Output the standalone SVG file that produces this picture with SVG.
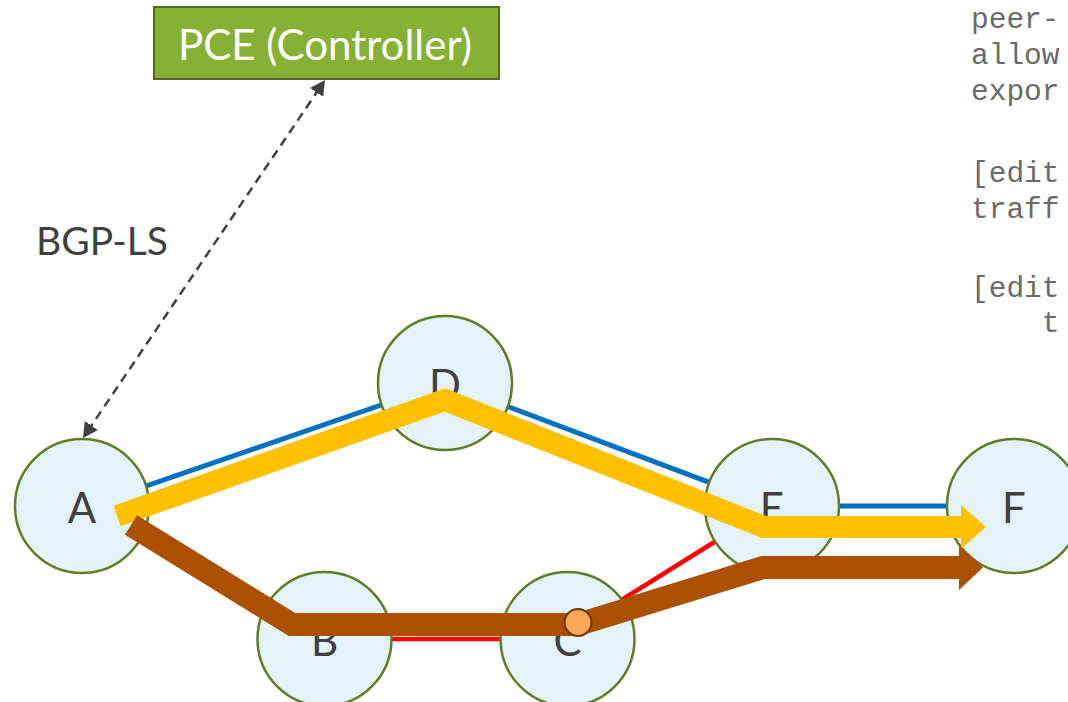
<svg xmlns="http://www.w3.org/2000/svg" width="1068" height="702" viewBox="0 0 1068 702">
  <style>
    .link-blue { stroke: #0070C0; stroke-width: 5; fill: none; }
    .link-red { stroke: #FF0000; stroke-width: 4.5; fill: none; }
    .node circle { fill: #E4F3FA; stroke: #5E7D23; stroke-width: 2.5; }
    .node text { font-family: Lato, "Open Sans", "Liberation Sans", sans-serif; font-size: 42px; fill: #404040; text-anchor: middle; }
    .path-yellow { stroke: #FFC000; stroke-width: 22; fill: none; stroke-linejoin: miter; stroke-miterlimit: 10; }
    .path-brown { stroke: #AA5000; stroke-width: 23; fill: none; stroke-linejoin: miter; stroke-miterlimit: 10; }
    .code { font-family: "Liberation Mono", "Courier New", monospace; font-size: 29.5px; fill: #6A6A6A; white-space: pre; }
    .label { font-family: Lato, "Open Sans", "Liberation Sans", sans-serif; font-size: 39px; fill: #404040; }
  </style>
  <defs>
    <marker id="dash-head" viewBox="0 0 15 16" refX="5" refY="8" markerWidth="15" markerHeight="16" markerUnits="userSpaceOnUse" orient="auto-start-reverse">
      <path d="M0,0 L15,8 L0,16 z" fill="#404040"/>
    </marker>
  </defs>

  <rect width="1068" height="702" fill="#FFFFFF"/>

  <!-- physical links -->
  <g id="links">
    <line class="link-blue" x1="82" y1="508" x2="445" y2="383"/>
    <line class="link-blue" x1="445" y1="383" x2="772" y2="506"/>
    <line class="link-blue" x1="772" y1="506" x2="1014" y2="506"/>
    <line class="link-red" x1="324" y1="639" x2="567" y2="639"/>
    <line class="link-red" x1="567" y1="634" x2="772" y2="506"/>
  </g>

  <!-- routers -->
  <g id="node-A" class="node"><circle cx="82" cy="506" r="67"/><text x="82" y="523">A</text></g>
  <g id="node-B" class="node"><circle cx="324.5" cy="639" r="67"/><text x="324.5" y="656">B</text></g>
  <g id="node-C" class="node"><circle cx="567.5" cy="639" r="67"/><text x="567.5" y="656">C</text></g>
  <g id="node-D" class="node"><circle cx="445" cy="383" r="67"/><text x="445" y="400">D</text></g>
  <g id="node-E" class="node"><circle cx="772" cy="506" r="67"/><text x="772" y="523">E</text></g>
  <g id="node-F" class="node"><circle cx="1014" cy="506" r="67"/><text x="1014" y="523">F</text></g>

  <!-- traffic-engineered paths -->
  <g id="paths">
    <g id="path-yellow">
      <polyline class="path-yellow" points="117,516 445,400 764,527 962,527"/>
      <polygon points="961,505 986,527 961,549" fill="#FFC000"/>
    </g>
    <g id="path-brown">
      <polyline class="path-brown" points="131,525 292,624.5 578,624.5 763,567.5 960,567.5"/>
      <polygon points="959,545 983,567.5 959,590" fill="#AA5000"/>
    </g>
    <circle id="path-point" cx="578" cy="622.5" r="13.5" fill="#FFA657" stroke="#6A3500" stroke-width="2"/>
  </g>

  <!-- controller session -->
  <g id="bgp-ls">
    <line x1="319.4" y1="88.3" x2="88.6" y2="429.7" stroke="#404040" stroke-width="2.5" stroke-dasharray="9 6" marker-start="url(#dash-head)" marker-end="url(#dash-head)"/>
    <text class="label" x="36" y="255">BGP-LS</text>
  </g>

  <g id="node-PCE">
    <rect x="154" y="7" width="345" height="72" fill="#86B135" stroke="#4E6B1F" stroke-width="2"/>
    <text x="325" y="60" font-family="Lato, 'Open Sans', 'Liberation Sans', sans-serif" font-size="42" fill="#FFFFFF" text-anchor="middle">PCE (Controller)</text>
  </g>

  <!-- configuration excerpt -->
  <g id="config">
    <text class="code" x="971" y="28">peer-</text>
    <text class="code" x="971" y="64">allow</text>
    <text class="code" x="971" y="100">expor</text>
    <text class="code" x="971" y="182">[edit</text>
    <text class="code" x="971" y="218">traff</text>
    <text class="code" x="971" y="297">[edit</text>
    <text class="code" x="971" y="332">    t</text>
  </g>
</svg>
